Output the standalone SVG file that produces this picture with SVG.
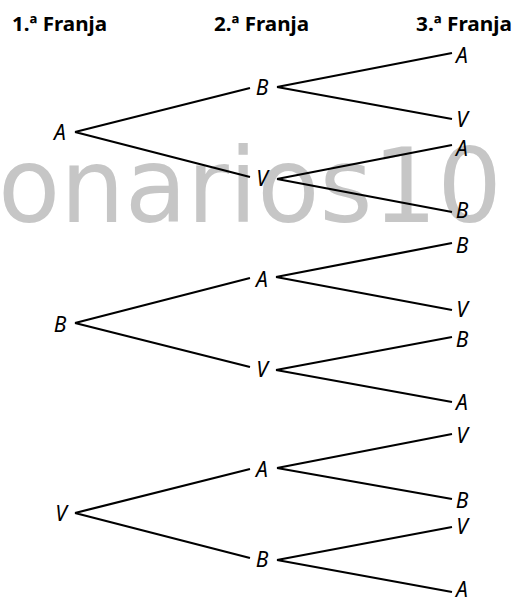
<svg xmlns="http://www.w3.org/2000/svg" width="515" height="599" viewBox="0 0 515 599">
<style>
.hdr{font-family:"Noto Sans","DejaVu Sans",sans-serif;font-weight:bold;font-size:20px;fill:#000}
.lbl{font-family:"Noto Sans","DejaVu Sans",sans-serif;font-style:italic;font-size:21px;fill:#000;text-anchor:middle}
.wm{font-family:"DejaVu Sans",sans-serif;font-size:104px;fill:#c6c6c6}
.edge{stroke:#000;stroke-width:2.2;fill:none;stroke-linecap:butt}
</style>
<rect width="515" height="599" fill="#fff"/>
<text class="wm" x="-2" y="222" textLength="504" lengthAdjust="spacingAndGlyphs">onarios10</text>
<g id="headers">
<text class="hdr" x="12" y="31" textLength="95" lengthAdjust="spacingAndGlyphs">1.ª Franja</text>
<text class="hdr" x="214" y="31" textLength="95" lengthAdjust="spacingAndGlyphs">2.ª Franja</text>
<text class="hdr" x="416" y="31" textLength="96" lengthAdjust="spacingAndGlyphs">3.ª Franja</text>
</g>
<g id="connectors">
<path class="edge" d="M75,132 L250,88 M75,132 L250,177 M277,87 L452,53 M277,87 L452,119 M277,179 L452,145 M277,179 L452,212"/>
<path class="edge" d="M75,323 L250,278 M75,323 L250,367 M276,277 L452,243 M276,277 L452,310 M276,370 L452,337 M276,370 L452,402"/>
<path class="edge" d="M75,513 L250,469 M75,513 L250,558 M277,468 L452,434 M277,468 L452,499 M277,560 L452,527 M277,560 L452,592"/>
</g>
<g id="n1"><text class="lbl" x="60" y="140">A</text></g>
<g id="n1B"><text class="lbl" x="262" y="95">B</text></g>
<g id="n1V"><text class="lbl" x="262" y="186">V</text></g>
<g id="n1BA"><text class="lbl" x="462" y="63">A</text></g>
<g id="n1BV"><text class="lbl" x="462" y="127">V</text></g>
<g id="n1VA"><text class="lbl" x="462" y="156">A</text></g>
<g id="n1VB"><text class="lbl" x="462" y="218">B</text></g>
<g id="n2"><text class="lbl" x="60" y="332">B</text></g>
<g id="n2A"><text class="lbl" x="262" y="287">A</text></g>
<g id="n2V"><text class="lbl" x="262" y="377">V</text></g>
<g id="n2AB"><text class="lbl" x="462" y="253">B</text></g>
<g id="n2AV"><text class="lbl" x="462" y="317">V</text></g>
<g id="n2VB"><text class="lbl" x="462" y="347">B</text></g>
<g id="n2VA"><text class="lbl" x="462" y="410">A</text></g>
<g id="n3"><text class="lbl" x="61" y="521">V</text></g>
<g id="n3A"><text class="lbl" x="262" y="477">A</text></g>
<g id="n3B"><text class="lbl" x="262" y="567">B</text></g>
<g id="n3AV"><text class="lbl" x="462" y="443">V</text></g>
<g id="n3AB"><text class="lbl" x="462" y="508">B</text></g>
<g id="n3BV"><text class="lbl" x="462" y="534">V</text></g>
<g id="n3BA"><text class="lbl" x="462" y="597">A</text></g>
</svg>
